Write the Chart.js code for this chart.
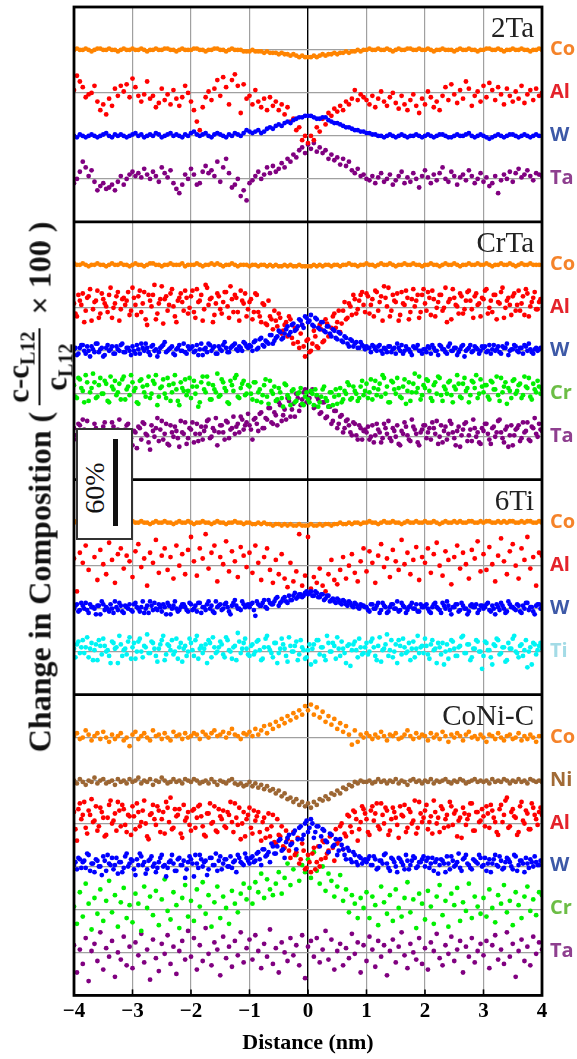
<!DOCTYPE html>
<html><head><meta charset="utf-8">
<script src="https://cdn.jsdelivr.net/npm/chart.js@4.4.1/dist/chart.umd.min.js"></script>
<style>
html,body{margin:0;padding:0;background:#fff;}
#wrap{position:relative;width:577px;height:1059px;overflow:hidden;background:#fff;}
#c{position:absolute;left:0;top:0;}
.elab{position:absolute;font-family:'Open Sans',sans-serif;font-weight:700;font-size:20px;line-height:1;transform:translateY(-50%);white-space:nowrap;}
.plab{position:absolute;font-family:'Liberation Serif',serif;font-size:29px;line-height:1;color:#222;white-space:nowrap;}
#scalebox{position:absolute;left:76px;top:428px;width:53px;height:108px;background:#fff;border:2px solid #333;}
#scalebox .t{position:absolute;left:17px;top:58px;transform:translate(-50%,-50%) rotate(-90deg);font-family:'Liberation Serif',serif;font-size:28px;line-height:1;color:#111;white-space:nowrap;}
#scalebox .bar{position:absolute;left:35px;top:9px;width:5px;height:87px;background:#111;}
#ytitle{position:absolute;left:39px;top:487px;transform:translate(-50%,-50%) rotate(-90deg);white-space:nowrap;font-family:'Liberation Serif',serif;font-weight:700;font-size:32px;color:#111;display:flex;align-items:center;line-height:1;}
#ytitle .frac{display:inline-flex;flex-direction:column;align-items:center;font-size:31px;margin:0 6px;line-height:1.0;}
#ytitle .frac .num{border-bottom:2px solid #111;padding:0 3px 1px 3px;}
#ytitle sub{font-size:20px;vertical-align:-6px;}
</style></head>
<body>
<div id="wrap">
<canvas id="c" width="577" height="1059"></canvas>
<div id="ytitle"><span>Change in Composition (</span><span class="frac"><span class="num">c-c<sub>L12</sub></span><span class="den">c<sub>L12</sub></span></span><span>&nbsp;× 100 )</span></div>
<div id="scalebox"><div class="t">60%</div><div class="bar"></div></div>
</div>
<script>
// Distance bins (nm)
const distance = [
-4,-3.95,-3.9,-3.85,-3.8,-3.75,-3.7,-3.65,-3.6,-3.55,-3.5,-3.45,-3.4,-3.35,-3.3,-3.25,-3.2,-3.15,-3.1,-3.05,
-3,-2.95,-2.9,-2.85,-2.8,-2.75,-2.7,-2.65,-2.6,-2.55,-2.5,-2.45,-2.4,-2.35,-2.3,-2.25,-2.2,-2.15,-2.1,-2.05,
-2,-1.95,-1.9,-1.85,-1.8,-1.75,-1.7,-1.65,-1.6,-1.55,-1.5,-1.45,-1.4,-1.35,-1.3,-1.25,-1.2,-1.15,-1.1,-1.05,
-1,-0.95,-0.9,-0.85,-0.8,-0.75,-0.7,-0.65,-0.6,-0.55,-0.5,-0.45,-0.4,-0.35,-0.3,-0.25,-0.2,-0.15,-0.1,-0.05,
0,0.05,0.1,0.15,0.2,0.25,0.3,0.35,0.4,0.45,0.5,0.55,0.6,0.65,0.7,0.75,0.8,0.85,0.9,0.95,
1,1.05,1.1,1.15,1.2,1.25,1.3,1.35,1.4,1.45,1.5,1.55,1.6,1.65,1.7,1.75,1.8,1.85,1.9,1.95,
2,2.05,2.1,2.15,2.2,2.25,2.3,2.35,2.4,2.45,2.5,2.55,2.6,2.65,2.7,2.75,2.8,2.85,2.9,2.95,
3,3.05,3.1,3.15,3.2,3.25,3.3,3.35,3.4,3.45,3.5,3.55,3.6,3.65,3.7,3.75,3.8,3.85,3.9,3.95,
4];
// second (interleaved) distance bins for the denser profiles
const distanceB = [
-3.975,-3.925,-3.875,-3.825,-3.775,-3.725,-3.675,-3.625,-3.575,-3.525,-3.475,-3.425,-3.375,-3.325,-3.275,-3.225,-3.175,-3.125,-3.075,-3.025,
-2.975,-2.925,-2.875,-2.825,-2.775,-2.725,-2.675,-2.625,-2.575,-2.525,-2.475,-2.425,-2.375,-2.325,-2.275,-2.225,-2.175,-2.125,-2.075,-2.025,
-1.975,-1.925,-1.875,-1.825,-1.775,-1.725,-1.675,-1.625,-1.575,-1.525,-1.475,-1.425,-1.375,-1.325,-1.275,-1.225,-1.175,-1.125,-1.075,-1.025,
-0.975,-0.925,-0.875,-0.825,-0.775,-0.725,-0.675,-0.625,-0.575,-0.525,-0.475,-0.425,-0.375,-0.325,-0.275,-0.225,-0.175,-0.125,-0.075,-0.025,
0.025,0.075,0.125,0.175,0.225,0.275,0.325,0.375,0.425,0.475,0.525,0.575,0.625,0.675,0.725,0.775,0.825,0.875,0.925,0.975,
1.025,1.075,1.125,1.175,1.225,1.275,1.325,1.375,1.425,1.475,1.525,1.575,1.625,1.675,1.725,1.775,1.825,1.875,1.925,1.975,
2.025,2.075,2.125,2.175,2.225,2.275,2.325,2.375,2.425,2.475,2.525,2.575,2.625,2.675,2.725,2.775,2.825,2.875,2.925,2.975,
3.025,3.075,3.125,3.175,3.225,3.275,3.325,3.375,3.425,3.475,3.525,3.575,3.625,3.675,3.725,3.775,3.825,3.875,3.925,3.975];
const xTicks = [-4,-3,-2,-1,0,1,2,3,4];

// ---- 2Ta : change in composition (%) ----
const co_2Ta = [
0,1,0,0,1,0,-1,0,1,1,0,0,1,0,0,-1,0,1,0,0,
1,0,0,1,0,-1,0,0,1,0,0,1,1,0,0,-1,0,1,0,0,
0,1,1,0,0,-1,0,0,1,1,0,0,-1,0,1,0,0,0,-1,-1,
-1,0,-1,-1,-1,-2,-1,-2,-2,-2,-3,-2,-3,-3,-4,-3,-4,-5,-4,-5,
-5,-5,-4,-5,-4,-3,-4,-3,-3,-2,-3,-2,-2,-1,-2,-1,-1,0,-1,0,
0,1,0,0,1,0,0,1,0,-1,0,1,0,0,1,1,0,0,1,0,
0,1,0,-1,0,0,1,0,0,0,-1,0,1,0,0,1,0,0,-1,0,
0,1,1,0,0,1,0,-1,0,0,1,0,0,1,0,0,-1,0,0,1,
0];
const al_2Ta = [
2,12,8,4,-3,-1,0,5,-6,-12,-8,-15,-4,-9,3,-2,5,1,6,-3,
10,4,-2,-6,-1,8,-4,-2,-10,-7,3,-5,-1,-8,2,-4,-9,-3,5,0,
-6,-12,-20,-26,-10,-3,1,-5,3,9,-2,11,4,-8,9,13,5,-14,6,-4,
-2,-8,2,-6,-10,-4,-12,-3,-9,-6,-12,-8,-15,-10,-20,-18,-26,-24,-33,-30,
-35,-30,-33,-24,-27,-18,-22,-14,-16,-11,-13,-9,-12,-6,-8,-4,2,-5,-1,-3,
-5,-8,-2,-10,-4,1,-6,-9,-3,0,-7,-11,-2,-8,-12,-5,-1,-9,-14,-4,
-8,1,-3,-10,-6,-12,-2,4,-5,6,-1,-7,2,-4,8,3,-9,-2,1,-6,
5,-3,7,2,-5,4,-1,-8,3,-2,-6,1,-4,5,-7,-1,2,-5,3,-2,
0];
const w_2Ta = [
0,-1,1,0,-1,0,1,0,-1,0,1,2,0,-1,1,0,1,0,-1,0,
1,2,0,1,-1,0,1,0,2,1,-1,0,1,2,0,1,0,-1,1,0,
2,3,1,0,1,2,0,-1,1,2,1,0,-1,1,0,2,1,0,2,4,
3,2,3,4,2,3,5,6,5,7,8,7,9,10,9,11,12,13,13,14,
14,14,13,12,12,13,13,11,10,9,9,8,7,6,6,5,4,4,3,3,
2,2,1,1,0,0,-1,0,1,0,-1,0,1,0,-1,0,0,1,0,-1,
0,1,0,-1,0,1,1,0,-1,-1,0,1,0,0,1,2,0,-1,0,1,
0,-1,-2,-1,0,1,0,-1,0,1,1,0,-1,0,1,0,-1,0,1,0,
0];
const ta_2Ta = [
-3,0,5,12,8,2,6,-2,-8,-5,-3,-7,-6,-4,-8,-2,2,-4,0,3,
5,2,4,1,7,3,0,5,2,-2,8,4,1,6,-3,-7,-10,-4,3,0,
7,3,-4,-3,5,9,4,6,2,12,-2,8,14,4,-6,-4,0,-12,-8,-15,
-3,-1,2,5,0,3,8,4,9,5,7,11,8,14,12,17,15,20,22,18,
24,21,25,19,22,18,20,14,17,13,15,10,14,9,12,6,4,7,2,3,
0,-1,2,-3,1,4,-2,0,3,-4,-1,2,5,-3,1,-2,4,0,-6,2,
6,1,-3,3,-1,4,8,0,-2,5,2,-4,1,3,-1,6,2,-3,0,4,
-2,1,-5,-3,2,-10,-1,3,0,5,-2,4,7,1,3,6,2,-1,4,3,
2];

// ---- CrTa ----
const co_CrTa = [
1,0,0,1,0,-1,0,0,1,0,0,-1,0,1,0,0,1,0,0,-1,
0,1,0,0,-1,0,1,1,0,0,-1,0,0,1,0,0,0,1,-1,0,
0,0,1,0,-1,0,0,1,0,1,0,-1,0,0,1,0,-1,0,0,0,
-1,0,0,-1,0,0,-1,0,-1,0,-1,-1,0,-1,0,-1,-1,0,-1,-1,
-1,-1,0,-1,0,-1,0,0,-1,0,0,-1,0,0,1,0,0,-1,0,0,
1,0,0,-1,0,1,0,0,1,0,-1,0,0,1,0,0,1,0,0,-1,
0,0,1,0,0,-1,0,1,0,0,1,0,-1,0,0,1,0,0,1,0,
0,1,0,-1,0,0,1,0,0,1,0,-1,0,1,0,0,1,0,0,0,
0];
const al_CrTa = [
3,-6,5,10,-2,8,-9,4,12,-4,6,1,9,-7,3,11,-1,7,5,-5,
14,2,8,-3,11,-12,5,9,-8,3,15,6,-2,10,1,-10,7,4,12,-4,
8,-3,13,5,-9,16,2,7,-5,10,-1,4,11,-7,6,9,-3,12,3,-6,
4,-8,10,-3,-10,2,-12,-6,-15,-9,-4,-18,-12,-20,-8,-25,-15,-28,-12,-34,
-22,-30,-16,-27,-12,-24,-8,-20,-14,-4,-10,-17,-2,-8,3,-5,6,-1,9,2,
10,-4,6,12,-2,8,15,1,-6,9,4,-9,11,2,7,-3,13,5,-7,9,
3,11,-5,6,0,9,-2,14,4,-8,7,1,10,-4,5,12,-1,8,2,-6,
6,13,0,-3,9,4,11,-7,5,2,8,-2,12,3,-5,10,1,7,-1,4,
6];
const alB_CrTa = [
-4,9,2,-10,7,13,-1,5,-7,10,3,-3,14,0,8,-9,6,2,11,-2,
7,-5,12,3,-8,9,1,16,-4,6,-11,8,2,13,-6,5,10,-2,7,0,
12,-7,4,9,-1,14,6,-10,3,8,-4,11,1,15,-3,7,-9,5,10,-1,
6,-3,9,-6,3,-11,5,-8,-2,-13,-7,-16,-10,-6,-21,-14,-24,-18,-27,-23,
-31,-25,-20,-28,-15,-23,-11,-19,-6,-14,-2,-11,4,-7,1,9,-4,5,11,-3,
8,2,-6,11,4,-9,7,14,-2,5,10,-5,3,12,-8,6,1,9,-3,13,
-2,7,12,-6,4,9,0,-10,6,13,2,-4,8,-1,11,5,-7,10,3,7,
12,-4,5,9,-8,3,14,0,7,-5,10,2,-2,8,13,-6,4,11,-1,6];
const w_CrTa = [
1,-3,2,4,-2,0,3,-1,5,1,-4,2,0,3,-2,1,4,-1,2,0,
3,-2,1,5,0,2,-3,4,1,-1,3,6,0,2,-2,1,4,0,-1,3,
2,-1,4,1,-3,2,5,0,3,-2,1,4,2,-1,3,5,0,2,6,3,
4,0,7,2,9,3,6,11,5,9,14,8,12,17,13,19,15,22,18,24,
20,25,17,22,15,20,13,17,10,14,8,12,6,9,3,7,5,2,6,3,
3,2,4,1,3,0,2,-1,3,1,-2,2,4,0,1,-1,3,2,0,-2,
1,3,-2,2,0,4,1,-1,3,0,2,-3,1,4,0,2,-1,3,1,0,
2,-1,4,1,0,3,-2,2,5,0,1,3,-1,2,4,0,1,-2,2,1,
1];
const wB_CrTa = [
2,-2,4,0,3,-4,1,5,-1,2,-3,4,1,-2,3,0,5,-1,2,-3,
0,4,-2,2,5,-1,3,0,-4,2,4,-1,1,3,-3,2,0,5,-2,1,
3,0,-3,5,1,-1,4,2,-2,3,0,6,-1,2,4,1,3,0,5,2,
3,6,1,8,4,7,5,11,7,10,13,9,15,11,18,14,17,21,16,23,
21,18,23,16,20,14,17,12,15,9,13,7,10,5,8,3,6,2,4,1,
2,-1,3,0,4,-2,1,3,-1,2,5,0,-2,3,1,-3,2,4,0,1,
-1,2,4,0,-3,3,1,-2,5,0,2,-1,3,-4,1,4,0,2,-2,3,
3,0,-2,4,1,-1,3,2,-3,1,4,0,2,-2,3,5,-1,1,0,2];
const cr_CrTa = [
6,-3,10,2,13,-5,4,8,-2,11,0,7,-6,5,9,1,-4,12,3,-1,
8,4,-7,10,1,6,-3,9,13,-2,5,0,11,-5,7,3,-8,4,10,2,
-3,9,5,-6,12,1,7,-4,3,14,-1,8,2,-7,6,11,-2,4,9,0,
5,-4,8,1,-6,6,-2,9,0,-5,4,-3,7,-1,-8,3,-5,1,-7,-2,
-4,2,-8,-1,-6,3,-3,-9,1,-2,-7,4,-4,0,6,-3,2,-5,5,-1,
7,1,-4,9,3,-2,11,5,-6,8,0,4,-3,10,2,-5,7,1,12,-1,
4,9,-3,6,0,11,-5,3,8,-1,5,13,-2,7,2,-6,9,4,-3,10,
1,6,-4,8,3,-1,11,5,-7,2,9,0,6,-3,12,4,-2,7,1,5,
3];
const crB_CrTa = [
-2,11,4,-6,8,1,14,-3,6,0,9,-5,12,3,-1,7,10,-4,5,13,
2,-6,9,5,-2,12,0,7,-8,4,10,-3,6,1,13,-5,8,2,-1,11,
5,0,-9,8,3,12,-4,6,1,-2,10,4,-6,9,2,13,-3,7,-1,6,
0,8,-5,3,-1,10,-7,2,5,-4,1,-9,6,-3,2,-6,0,4,-8,1,
-6,0,3,-9,-2,5,-5,1,-8,3,-1,-6,2,8,-4,5,0,-3,9,2,
-3,10,4,-1,7,13,0,-6,9,3,11,-2,5,-7,8,1,14,4,-4,6,
10,2,-5,8,12,-1,5,0,9,-6,3,7,-3,11,4,-1,8,13,0,5,
6,-2,9,3,12,-5,1,8,4,-3,10,2,7,-1,5,11,-4,3,9,0];
const ta_CrTa = [
6,-2,8,12,1,-5,4,9,-3,2,7,-8,3,10,0,5,-4,-1,8,2,
-6,3,7,-2,9,1,-9,4,6,-3,11,2,-5,8,0,4,-7,3,10,-1,
5,-4,9,2,-2,7,12,0,4,-6,8,3,11,-1,6,2,9,14,5,10,
8,-2,13,4,17,6,12,20,9,15,24,11,19,27,14,23,30,18,26,33,
25,31,20,28,16,24,13,21,9,18,6,14,3,11,8,1,9,-2,6,4,
3,-2,8,1,5,-4,9,2,-1,6,0,-5,4,10,1,-3,7,2,-6,5,
8,3,-2,6,11,0,-4,7,2,9,-1,4,-7,5,10,1,-3,6,3,-5,
4,9,-2,6,0,11,3,-4,7,1,-6,5,8,-1,3,10,-3,6,2,9,
4];
const taB_CrTa = [
1,9,-4,5,11,0,-7,6,3,-2,10,4,-6,7,1,12,-3,5,9,-1,
4,-8,6,10,2,-4,8,0,13,5,-2,9,-6,3,7,-1,11,2,-5,6,
10,2,-3,7,4,11,-1,6,13,3,8,-2,10,5,14,7,3,12,8,16,
5,12,9,16,6,13,20,10,17,8,22,15,12,25,19,14,27,22,31,24,
27,33,21,26,17,24,14,21,11,18,9,15,6,12,3,10,1,8,-2,5,
7,0,-4,9,3,-1,6,11,-3,4,8,-6,2,7,-2,12,5,-4,3,8,
-1,6,10,2,-5,8,4,-2,11,3,-6,7,1,9,-3,5,12,0,-4,6,
9,2,-5,7,3,12,-1,5,-7,8,1,6,-3,10,4,-2,7,13,0,5];

// ---- 6Ti ----
const co_6Ti = [
0,1,0,-1,0,1,0,1,0,0,-1,0,1,0,0,1,0,-1,0,0,
1,0,0,1,0,0,-1,0,1,0,0,1,0,0,-1,0,1,0,0,1,
0,-1,0,0,1,0,0,-1,0,1,0,0,-1,0,0,1,0,0,-1,0,
0,-1,-1,0,-1,0,-1,-1,-2,-1,-1,-2,-1,-2,-1,-2,-2,-1,-2,-2,
-2,-1,-2,-2,-1,-2,-1,-1,-2,-1,-1,0,-1,-1,0,-1,0,0,-1,0,
0,1,0,0,-1,0,1,0,0,1,0,0,-1,0,1,0,0,1,0,0,
1,0,0,1,0,-1,0,1,0,0,1,0,1,0,0,1,1,0,0,1,
0,1,1,0,0,1,0,1,0,1,1,0,0,1,0,1,1,0,0,1,
0];
const al_6Ti = [
5,-18,9,2,14,-3,20,6,-10,11,1,-6,16,4,-12,8,12,-2,7,3,
-8,10,15,-1,5,-14,9,2,18,-5,7,12,-3,6,-9,14,0,8,-6,11,
20,3,-7,12,5,22,-2,9,14,-11,6,1,17,-4,10,3,-8,13,7,-1,
9,-5,14,2,-10,6,12,-3,-12,4,-6,8,-9,-15,2,-11,-4,22,-14,-7,
20,-16,-8,-12,-2,-14,-18,-6,4,-10,-13,-3,6,-9,0,8,-5,-11,3,12,
-4,10,2,-12,7,15,-1,5,-8,11,3,-3,18,1,9,-6,4,13,-10,6,
2,12,-5,8,16,0,-7,10,4,-13,6,14,-2,9,1,-9,11,5,17,-4,
8,-3,13,1,-11,7,19,3,-6,10,15,0,-9,12,4,20,-2,6,-14,9,
7];
const w_6Ti = [
0,3,-1,2,4,-3,1,0,2,-4,3,1,-2,0,5,-1,2,-3,1,3,
-2,4,0,1,-3,2,5,-1,0,3,-2,1,4,-4,2,0,-1,3,1,-2,
3,0,-2,4,1,-1,5,2,-3,1,3,0,4,-2,2,6,0,-1,3,2,
1,4,-5,3,2,6,0,4,3,7,2,5,8,4,6,9,7,10,8,11,
10,12,9,11,8,10,7,9,6,5,7,4,6,3,5,2,4,1,3,2,
1,-2,3,0,4,-1,2,-3,1,3,0,-2,4,1,-1,2,0,3,-2,1,
2,0,-3,3,1,-1,4,0,2,-4,1,3,-1,2,0,-2,3,1,-3,2,
0,3,-1,2,-4,1,4,0,-2,3,1,-1,2,-3,0,4,1,-2,2,3,
1];
const wB_6Ti = [
2,-2,4,0,-1,3,1,-4,2,5,-1,0,3,-3,1,4,-2,2,0,-1,
3,1,-2,5,0,-3,2,4,-1,1,3,-4,2,0,5,-2,1,3,-1,4,
-1,2,4,-3,1,3,0,-2,5,2,-1,3,1,-4,4,2,0,5,1,3,
3,-1,5,2,4,1,6,3,5,8,4,7,5,9,6,11,8,10,9,12,
11,9,12,8,10,6,9,5,7,4,6,3,5,2,4,1,3,0,2,1,
-1,3,0,2,-3,4,1,-2,3,0,5,-1,2,-3,1,4,0,-2,3,1,
3,-2,1,4,0,-3,2,5,-1,1,3,-2,4,0,-4,2,1,3,-1,2,
1,4,-2,0,3,-1,2,-3,5,1,0,3,-2,2,4,-1,1,-4,3,0];
const ti_6Ti = [
2,5,-1,8,3,-4,6,1,-6,4,9,0,-3,7,2,-8,5,1,-2,10,
3,-5,7,0,4,12,-1,6,-3,2,8,-6,5,1,-2,9,3,-7,4,0,
6,-3,11,2,-1,5,8,-4,3,0,7,-2,10,1,-5,4,13,-1,6,2,
-3,5,0,8,-6,3,11,1,-4,6,-1,9,2,-7,4,0,7,-2,3,-5,
1,-9,5,8,-2,3,-6,6,0,4,10,-3,2,-8,5,1,7,-4,3,-1,
6,0,9,-3,4,-7,2,12,1,-4,5,8,-2,3,0,-6,7,2,-1,4,
9,-2,5,1,-8,3,6,0,-5,8,2,-3,4,11,-1,5,-4,2,7,0,
-3,6,1,-9,4,8,-1,3,-6,2,9,0,-4,5,1,-11,3,6,-2,4,
2];
const tiB_6Ti = [
-4,7,3,-1,10,2,-6,5,8,-2,4,1,-8,6,3,11,-3,2,7,-5,
6,0,9,-4,3,-1,7,2,-7,5,11,-2,4,8,0,-5,6,2,-3,9,
1,8,-5,4,2,-8,6,10,-1,3,5,-4,8,0,3,-6,7,2,9,-2,
4,-2,7,1,-5,9,3,-1,6,-8,2,5,-3,10,0,4,-6,8,1,-4,
5,2,-7,8,3,-3,11,0,6,-5,2,7,-1,4,-10,5,1,9,-2,3,
-2,7,3,-6,10,1,5,-3,8,0,-8,4,9,-1,6,2,-4,11,3,-1,
4,-5,8,2,6,-2,-9,5,1,7,-3,3,10,-1,5,-6,2,8,0,-12,
7,1,-4,5,9,-2,3,-7,6,2,11,-1,4,-3,8,0,-9,5,1,6];

// ---- CoNi-C ----
const co_CoNiC = [
1,3,-1,0,5,2,-2,1,3,-1,4,0,-3,2,-1,1,3,-2,0,-6,
2,4,-1,1,3,0,-2,5,1,2,-1,3,0,-2,4,1,2,-1,3,0,
1,3,2,-1,4,2,0,3,5,1,2,4,0,3,6,2,1,-1,3,2,
4,1,6,2,5,8,3,9,6,11,8,13,10,15,12,17,14,19,16,22,
19,23,16,21,14,18,11,15,9,13,6,10,4,8,2,-5,5,-3,2,0,
3,1,-1,2,0,4,1,-2,2,1,3,-1,0,2,5,1,-1,3,0,2,
1,-2,3,0,2,-1,4,1,-3,2,0,3,1,-2,2,4,0,1,-1,2,
0,-3,2,1,-1,3,0,-2,1,2,-1,0,3,-2,1,-1,2,0,-3,1,
1];
const ni_CoNiC = [
0,-2,1,-1,-3,0,-1,2,-2,0,1,-2,-1,0,-3,1,-1,0,-2,1,
-1,0,2,-2,0,-1,1,-3,0,-1,2,0,-2,-1,1,-1,0,-2,1,0,
-1,1,0,-2,-1,0,-2,1,-1,-3,0,-1,-2,0,1,-2,-3,-2,-4,-3,
-1,-4,-2,-5,-3,-6,-4,-7,-6,-9,-7,-11,-9,-13,-12,-15,-13,-17,-15,-18,
-16,-19,-15,-17,-13,-14,-11,-13,-9,-10,-7,-9,-5,-6,-3,-4,-1,-2,0,-1,
-1,0,-2,-1,1,-1,0,-2,0,-1,1,-2,0,-1,-3,0,1,-1,0,-2,
0,-1,1,-2,0,-1,0,1,-1,-2,0,-1,1,0,-2,-1,0,1,-1,0,
-1,0,-2,1,-1,0,-1,1,0,-2,0,-1,1,-1,0,-2,1,0,-1,0,
-1];
const al_CoNiC = [
8,-12,14,6,-3,9,17,2,-5,11,4,-8,13,0,7,15,-2,10,-6,5,
12,-4,8,1,16,-9,6,13,-1,9,3,-7,11,18,-3,5,10,-10,2,8,
-5,10,4,13,-2,-9,7,0,12,-6,5,9,-3,6,1,14,-1,-11,8,3,
11,-7,2,8,-12,4,-4,-9,6,-14,-8,-2,-17,-11,-24,-6,-20,-28,-14,-32,
-22,-34,-17,-27,-30,-12,-24,-19,-8,-26,-14,-2,-18,-9,5,-6,8,-12,1,10,
3,-8,12,7,-2,14,0,9,-5,11,4,-10,6,13,-3,8,2,-7,15,1,
9,-4,5,16,0,-6,10,3,-2,12,7,-9,4,11,-1,6,14,-5,8,2,
5,12,-3,9,1,-8,13,6,18,-2,10,4,-6,15,0,7,-4,11,3,8,
6];
const alB_CoNiC = [
-4,10,3,15,-7,6,1,12,-2,8,-9,4,16,2,-5,9,13,-1,6,-8,
5,14,-2,9,0,-11,7,3,12,-6,8,15,1,-4,10,6,-7,13,4,-1,
9,-3,12,5,-8,7,14,1,-5,10,3,-2,8,15,-6,4,11,0,-9,6,
-3,9,5,-6,1,-10,7,-2,-13,3,-9,-16,-5,-19,-13,-22,-10,-25,-19,-31,
-27,-21,-32,-16,-25,-13,-21,-9,-17,-4,-12,0,-7,6,-2,9,3,-4,12,7,
-6,9,2,14,-4,6,11,-8,3,8,-1,12,5,-6,10,0,16,-3,7,4,
13,1,-7,8,4,12,-3,6,15,-1,9,2,-10,7,3,14,-5,8,1,10,
-2,7,13,4,-6,10,1,16,-3,8,5,-8,12,2,9,-4,14,6,-1,11];
const w_CoNiC = [
1,-2,5,3,-1,8,2,-4,4,0,7,-3,2,6,1,-5,3,-1,9,2,
4,-6,1,7,3,-2,5,0,-4,3,8,1,-1,4,2,-3,6,1,-8,3,
5,-7,2,8,0,4,-2,6,1,-3,7,2,5,0,-1,4,8,3,1,6,
2,7,4,10,1,12,8,3,14,9,18,11,6,20,15,23,12,27,19,30,
24,33,20,28,14,26,18,10,22,15,8,19,12,5,11,3,8,1,6,4,
3,7,1,5,-1,4,8,2,-3,5,0,6,3,-2,4,1,7,-1,3,5,
0,6,2,-3,5,1,4,-4,2,7,0,3,-1,5,8,1,-2,4,2,6,
1,-3,5,2,8,0,4,-1,6,3,-2,7,1,4,-4,2,5,0,3,1,
4];
const wB_CoNiC = [
3,6,-1,4,9,-3,2,5,0,-6,4,8,1,-2,6,3,-4,7,0,5,
-2,5,9,1,-5,4,7,2,-1,6,0,-7,3,8,-3,5,1,4,-2,7,
2,8,-1,5,3,-6,6,1,9,4,-2,5,0,7,3,-4,6,2,9,4,
6,3,9,5,12,7,10,16,9,14,19,12,17,22,16,25,19,28,22,32,
27,30,24,28,21,25,17,23,14,19,11,15,8,13,5,10,3,7,2,5,
5,1,7,-2,4,2,9,-1,6,3,-4,5,1,8,-2,4,6,0,3,7,
4,-1,6,3,-5,5,2,7,-2,4,1,9,-3,6,2,-1,5,3,8,0,
6,2,-4,5,1,7,-2,3,5,0,8,-3,4,2,6,-1,3,7,1,4];
const cr_CoNiC = [
2,-10,12,-5,18,4,-14,8,-3,14,-8,6,20,-2,10,-12,5,15,-6,3,
-9,11,4,-15,16,1,9,-4,13,-11,7,21,-1,-7,12,3,-13,8,17,-5,
6,-8,14,2,19,-3,10,-12,5,16,-6,9,1,-10,13,4,-2,11,18,7,
15,4,19,12,25,8,21,14,10,18,26,11,22,32,17,28,38,20,31,26,
35,22,40,27,18,30,13,25,20,9,16,24,6,14,-2,10,4,-6,8,1,
12,-6,9,3,-11,16,5,-3,10,-8,14,1,-5,8,19,-2,7,-13,11,4,
-7,13,2,-10,9,17,-4,6,-12,11,3,15,-8,5,-1,18,-6,9,2,-3,
8,-5,14,1,-9,10,4,17,-2,6,-11,12,3,-6,9,16,-1,7,-4,12,
10];
const ta_CoNiC = [
5,-14,2,-8,10,-20,1,6,-6,14,-12,3,-3,8,-17,0,-5,11,-9,4,
-11,7,-2,13,-7,2,-19,9,-4,-13,6,-1,12,-8,4,-15,1,8,-5,15,
-3,10,-12,5,-6,17,-1,-9,7,2,-16,11,-4,4,-10,8,-2,14,-7,3,
9,-5,12,1,-11,6,-3,16,-8,3,-14,7,0,-6,10,-2,5,-9,12,-18,
4,8,-3,10,-7,2,15,-5,9,-12,1,6,-9,3,-4,13,-1,7,-14,5,
-6,11,2,-10,8,-3,5,-16,1,9,-7,4,14,-2,-11,6,0,-5,10,-8,
3,-12,7,1,13,-4,-9,5,-1,11,-6,2,8,-14,4,-3,10,-7,1,6,
-2,8,-11,5,12,-5,2,-8,14,-3,6,-17,1,9,-6,4,-9,11,-1,7,
2];

// ---- layout: stacked offsets (in %), each grid step = 30 % ----
const panels = [
  {name:'2Ta',    top:690, series:[['Co',660,co_2Ta],['Al',630,al_2Ta],['W',600,w_2Ta],['Ta',570,ta_2Ta]]},
  {name:'CrTa',   top:540, series:[['Co',510,co_CrTa],['Al',480,al_CrTa,alB_CrTa],['W',450,w_CrTa,wB_CrTa],['Cr',420,cr_CrTa,crB_CrTa],['Ta',390,ta_CrTa,taB_CrTa]]},
  {name:'6Ti',    top:360, series:[['Co',330,co_6Ti],['Al',300,al_6Ti],['W',270,w_6Ti,wB_6Ti],['Ti',240,ti_6Ti,tiB_6Ti]]},
  {name:'CoNi-C', top:210, series:[['Co',180,co_CoNiC],['Ni',150,ni_CoNiC],['Al',120,al_CoNiC,alB_CoNiC],['W',90,w_CoNiC,wB_CoNiC],['Cr',60,cr_CoNiC],['Ta',30,ta_CoNiC]]}
];
const panelEdges = [210,360,540];
const dotColor = {Co:'#ff8400',Al:'#ff0000',W:'#0000ff',Ta:'#800080',Cr:'#00f000',Ti:'#00f4f4',Ni:'#9c6633'};
const labelColor = {Co:'#f5832a',Al:'#e4232b',W:'#3d59a7',Ta:'#8e3f8f',Cr:'#6cbd45',Ti:'#a3dbe6',Ni:'#a16a35'};

const drawOrder = ['W','Al','Cr','Ta','Ti','Ni','Co'];
const datasets = [];
panels.forEach(p => {
  p.series.forEach(([el, base, vals, valsB]) => {
    const pts = vals.map((v, i) => ({x: distance[i], y: base + v}));
    if (valsB) valsB.forEach((v, i) => pts.push({x: distanceB[i], y: base + v}));
    datasets.push({
      label: p.name + ' ' + el,
      data: pts,
      backgroundColor: dotColor[el],
      borderColor: dotColor[el],
      borderWidth: 0,
      pointRadius: 2.4,
      pointHoverRadius: 2.4,
      showLine: false,
      order: drawOrder.indexOf(el)
    });
  });
});

const framePlugin = {
  id: 'frame',
  afterDatasetsDraw(chart) {
    const {ctx, chartArea: a, scales: {x, y}} = chart;
    ctx.save();
    ctx.strokeStyle = '#000';
    ctx.lineWidth = 1.6;
    xTicks.forEach(v => {
      const px = x.getPixelForValue(v);
      ctx.beginPath(); ctx.moveTo(px, a.bottom); ctx.lineTo(px, a.bottom - 6); ctx.stroke();
    });
    ctx.lineWidth = 2.8;
    panelEdges.forEach(v => {
      const py = y.getPixelForValue(v);
      ctx.beginPath(); ctx.moveTo(a.left, py); ctx.lineTo(a.right, py); ctx.stroke();
    });
    ctx.strokeRect(a.left, a.top, a.right - a.left, a.bottom - a.top);
    ctx.restore();
  }
};

const chart = new Chart(document.getElementById('c'), {
  type: 'scatter',
  data: {datasets},
  options: {
    responsive: false,
    animation: false,
    events: [],
    layout: {padding: {left: 74, right: 35, top: 7, bottom: 0}},
    plugins: {legend: {display: false}, tooltip: {enabled: false}},
    scales: {
      x: {
        type: 'linear', min: -4, max: 4,
        afterBuildTicks: s => { s.ticks = xTicks.map(v => ({value: v})); },
        ticks: {
          callback: v => (v < 0 ? '\u2212' + Math.abs(v) : String(v)),
          font: {family: 'Liberation Serif', weight: 'bold', size: 21},
          color: '#000', padding: 4, maxRotation: 0
        },
        grid: {
          drawTicks: false,
          color: c => (c.tick && c.tick.value === 0 ? '#000' : '#a0a0a0'),
          lineWidth: c => (c.tick && c.tick.value === 0 ? 1.4 : 1.2)
        },
        border: {display: false},
        title: {display: true, text: 'Distance (nm)', color: '#000',
          font: {family: 'Liberation Serif', weight: 'bold', size: 22}, padding: {top: 2, bottom: 2}}
      },
      y: {
        type: 'linear', min: 0, max: 690,
        ticks: {display: false, stepSize: 30},
        grid: {drawTicks: false, color: '#a0a0a0', lineWidth: 1.2},
        border: {display: false}
      }
    }
  },
  plugins: [framePlugin]
});

// text labels positioned from the chart's own scales
const wrap = document.getElementById('wrap');
const ys = chart.scales.y, xs = chart.scales.x;
panels.forEach(p => {
  const pl = document.createElement('div');
  pl.className = 'plab';
  pl.textContent = p.name;
  pl.style.right = (577 - (xs.right - 8)) + 'px';
  pl.style.top = (ys.getPixelForValue(p.top) + 6) + 'px';
  wrap.appendChild(pl);
  p.series.forEach(([el, base]) => {
    const d = document.createElement('div');
    d.className = 'elab';
    d.textContent = el;
    d.style.color = labelColor[el];
    d.style.left = (xs.right + 8) + 'px';
    d.style.top = (ys.getPixelForValue(base) - 2) + 'px';
    wrap.appendChild(d);
  });
});
</script>
</body></html>
